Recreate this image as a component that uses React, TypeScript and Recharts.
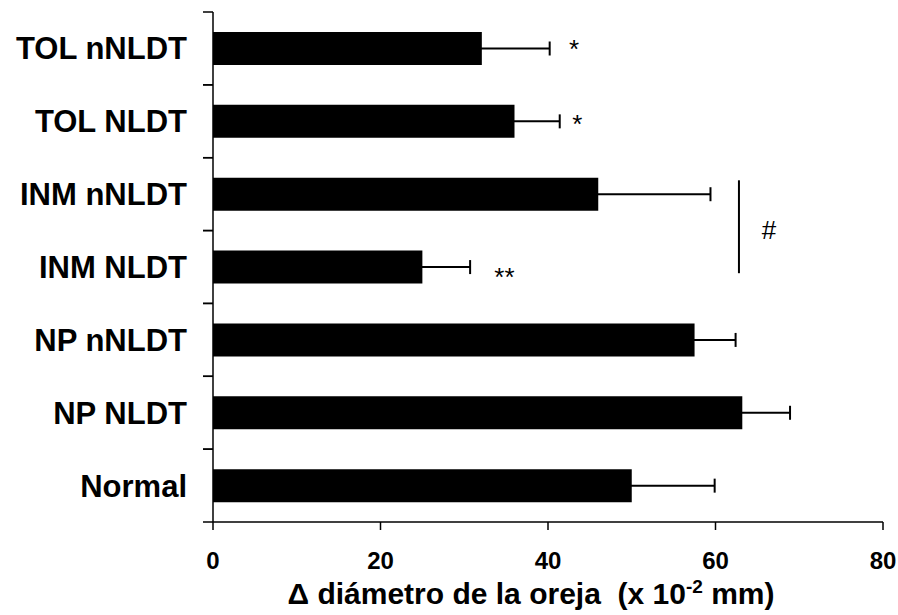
import React from 'react';
import { ComposedChart, Bar, XAxis, YAxis, ErrorBar, ReferenceLine, ReferenceDot } from 'recharts';

// ---- data ----
const categories = ['TOL nNLDT', 'TOL NLDT', 'INM nNLDT', 'INM NLDT', 'NP nNLDT', 'NP NLDT', 'Normal'];
const means = [32.1, 36.0, 46.0, 25.0, 57.5, 63.2, 50.0];
const sems = [8.1, 5.4, 13.4, 5.7, 4.9, 5.7, 9.9];
const xTicks = [0, 20, 40, 60, 80];

// significance marks (x in data units, y in row units from top: 0..7)
const markTexts = ['*', '*', '**', '#'];
const markX = [43.1, 43.5, 34.8, 66.4];
const markY = [0.63, 1.66, 3.76, 3.12];
const bracketX = 62.8;
const bracketY = [2.31, 3.585];

const titleMain = 'Δ diámetro de la oreja  (x 10';
const titleSup = '-2';
const titleEnd = ' mm)';

const FONT = '"Liberation Sans", Arial, Helvetica, sans-serif';

const data = categories.map((name, i) => ({ name, value: means[i], err: sems[i] }));

// the hidden numeric row axis spans index 0..n-1 over the full plot height
const toAxis = (v: number) => (v * (categories.length - 1)) / categories.length;

const Y_TICK_SIZE = 10;
const Y_TICK_MARGIN = 16;

const YTick = (props: any) => {
  const { x, y, payload } = props;
  const half = payload && payload.offset ? payload.offset : 0;
  const lx1 = x + Y_TICK_MARGIN;
  const lx2 = x + Y_TICK_MARGIN + Y_TICK_SIZE;
  return (
    <g>
      <line x1={lx1} x2={lx2} y1={y - half} y2={y - half} stroke="#000" strokeWidth={1.5} />
      <line x1={lx1} x2={lx2} y1={y + half} y2={y + half} stroke="#000" strokeWidth={1.5} />
      <text x={x} y={y} dy="0.355em" textAnchor="end" fontFamily={FONT} fontWeight="bold" fontSize={31} fill="#000">
        {payload.value}
      </text>
    </g>
  );
};

const TitleLabel = (props: any) => {
  const vb = props.viewBox || { x: 0, y: 0, width: 0, height: 0 };
  const cx = vb.x + vb.width / 2 - 17;
  return (
    <text x={cx} y={vb.y + 82} textAnchor="middle" fontFamily={FONT} fontWeight="bold" fontSize={30} fill="#000" style={{ whiteSpace: 'pre' }}>
      <tspan>{titleMain}</tspan>
      <tspan dy={-11} fontSize={19}>{titleSup}</tspan>
      <tspan dy={11}>{titleEnd}</tspan>
    </text>
  );
};

export default function App() {
  return (
    <div style={{ position: 'absolute', left: 0, top: 0, width: 898, height: 615, background: '#fff' }}>
      <ComposedChart
        width={898}
        height={615}
        data={data}
        layout="vertical"
        margin={{ top: 12, right: 15, bottom: 0, left: 0 }}
      >
        <XAxis
          type="number"
          domain={[0, 80]}
          ticks={xTicks}
          interval={0}
          height={93}
          tickSize={8}
          tickMargin={22}
          axisLine={{ stroke: '#000', strokeWidth: 1.5 }}
          tickLine={{ stroke: '#000', strokeWidth: 1.5 }}
          tick={{ fill: '#000', fontFamily: FONT, fontWeight: 'bold', fontSize: 24 }}
          label={<TitleLabel />}
        />
        <YAxis
          yAxisId="cat"
          type="category"
          dataKey="name"
          width={213}
          tickSize={Y_TICK_SIZE}
          tickMargin={Y_TICK_MARGIN}
          tickLine={false}
          interval={0}
          axisLine={{ stroke: '#000', strokeWidth: 1.5 }}
          tick={<YTick />}
        />
        <YAxis yAxisId="rows" type="number" hide />
        <Bar yAxisId="cat" dataKey="value" fill="#000" barSize={33} isAnimationActive={false}>
          <ErrorBar dataKey="err" direction="x" width={7} stroke="#000" strokeWidth={2} isAnimationActive={false} />
        </Bar>
        <ReferenceLine
          yAxisId="rows"
          segment={[{ x: bracketX, y: toAxis(bracketY[0]) }, { x: bracketX, y: toAxis(bracketY[1]) }]}
          stroke="#000"
          strokeWidth={2}
        />
        {markTexts.map((t, i) => (
          <ReferenceDot
            key={i}
            yAxisId="rows"
            x={markX[i]}
            y={toAxis(markY[i])}
            r={0}
            shape={(p: any) => (
              <text x={p.cx} y={p.cy} textAnchor="middle" fontFamily={FONT} fontSize={26} fill="#000">
                {t}
              </text>
            )}
          />
        ))}
      </ComposedChart>
    </div>
  );
}
